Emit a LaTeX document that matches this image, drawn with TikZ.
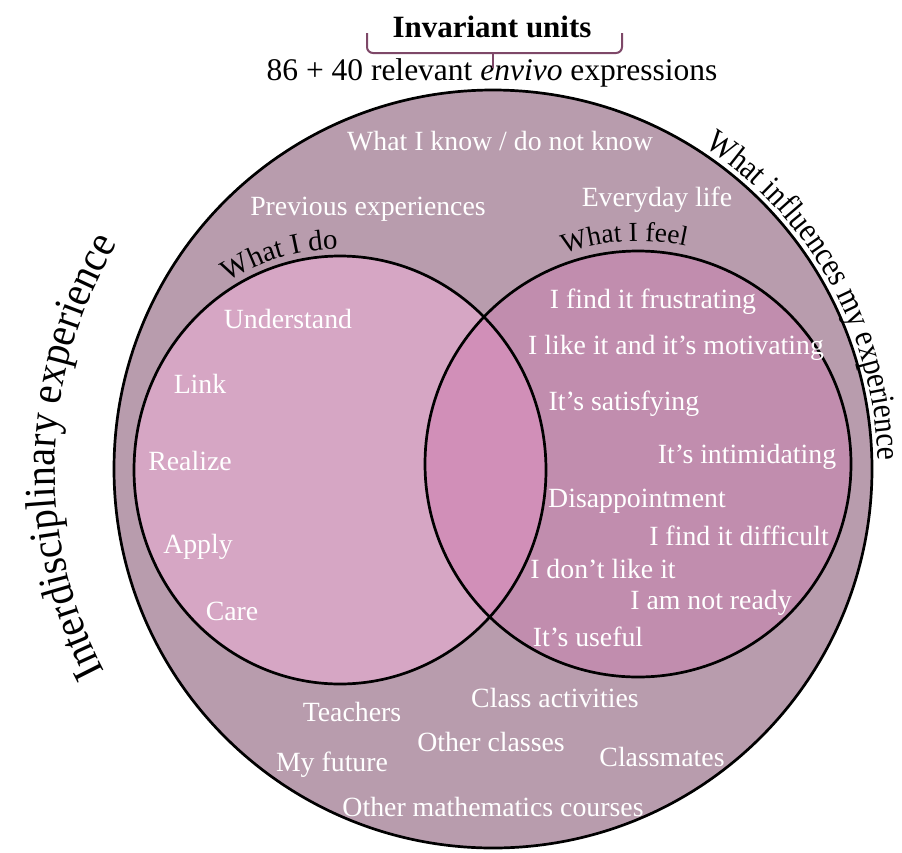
\documentclass[tikz,border=0pt]{standalone}
\usepackage{fontspec}
\setmainfont{Liberation Serif}
\newfontfamily\tallfontL[FakeStretch=0.91]{Liberation Serif}
\newfontfamily\tallfontR[FakeStretch=0.88]{Liberation Serif}
\usetikzlibrary{decorations.text}
\definecolor{ringc}{HTML}{B89CAD}
\definecolor{leftc}{HTML}{D6A6C4}
\definecolor{rightc}{HTML}{C18DAE}
\definecolor{lensc}{HTML}{D18FB8}
\definecolor{bracec}{HTML}{7E4868}
\begin{document}
\begin{tikzpicture}[x=1pt,y=1pt,
  wt/.style={text=white, font=\fontsize{27.8}{30}\selectfont, anchor=base, inner sep=0pt},
  bt/.style={text=black, font=\fontsize{31.5}{34}\selectfont, anchor=base, inner sep=0pt},
  outline/.style={draw=black, line width=2.7pt},
  bracestyle/.style={draw=bracec, line width=2pt, rounded corners=6pt}]
\useasboundingbox (0,0) rectangle (902,-852);
\coordinate (O) at (493,-469);
\coordinate (L) at (340,-470);
\coordinate (R) at (638,-464);
% fills
\fill[ringc] (O) circle[radius=379];
\fill[leftc] (L) ellipse[x radius=206, y radius=214];
\fill[rightc] (R) circle[radius=213];
\begin{scope}
  \clip (L) ellipse[x radius=206, y radius=214];
  \fill[lensc] (R) circle[radius=213];
\end{scope}
% outlines
\draw[outline] (O) circle[radius=379];
\draw[outline] (L) ellipse[x radius=206, y radius=214];
\draw[outline] (R) circle[radius=213];
% title and brace
\node[bt, font=\fontsize{31}{34}\selectfont\bfseries] (title) at (492,-37) {Invariant units};
\node[bt] (expr) at (492,-80) {86 + 40 relevant \textit{envivo} expressions};
\coordinate (bl) at (367,-33);
\coordinate (br) at (622,-33);
\coordinate (bm) at (493,-53);
\draw[bracestyle] (bl) -- (bl |- bm) -- (br |- bm) -- (br);
\draw[draw=bracec, line width=2pt] (bm) -- (493,-68);
% curved labels
\path[decorate, decoration={text along path, text align=center,
  text={|\tallfontL\fontsize{44}{48}\selectfont|Interdisciplinary experience}}]
  (O) ++(212:438) arc[start angle=212, end angle=144.5, radius=438];
\path[decorate, decoration={text along path, text align=center,
  text={|\tallfontR\fontsize{33.5}{38}\selectfont|What influences my experience}}]
  (O) ++(61:385) arc[start angle=61, end angle=-3, radius=385];
\path[decorate, decoration={text along path, text align=center,
  text={|\fontsize{29}{32}\selectfont|What I do}}]
  (L) ++(128:214 and 221) arc[start angle=128, end angle=84, x radius=214, y radius=221];
\path[decorate, decoration={text along path, text align=center,
  text={|\fontsize{27.5}{30}\selectfont|What I feel}}]
  (R) ++(113:223) arc[start angle=113, end angle=74, radius=223];
% outer ring labels
\node[wt] (know) at (500,-150) {What I know / do not know};
\node[wt] (every) at (657,-206) {Everyday life};
\node[wt] (prev) at (368,-215) {Previous experiences};
\node[wt] (teach) at (352,-721) {Teachers};
\node[wt] (classact) at (555,-707) {Class activities};
\node[wt] (othercl) at (491,-751) {Other classes};
\node[wt] (future) at (332,-771) {My future};
\node[wt] (mates) at (662,-766) {Classmates};
\node[wt] (othermath) at (493,-816) {Other mathematics courses};
% left circle labels
\node[wt] (under) at (288,-328) {Understand};
\node[wt] (link) at (200,-393) {Link};
\node[wt] (real) at (190,-470) {Realize};
\node[wt] (apply) at (198,-553) {Apply};
\node[wt] (care) at (232,-620) {Care};
% right circle labels
\node[wt] (frus) at (653,-308) {I find it frustrating};
\node[wt] (like) at (676,-354) {I like it and it’s motivating};
\node[wt] (sat) at (624,-410) {It’s satisfying};
\node[wt] (intim) at (747,-463) {It’s intimidating};
\node[wt] (disap) at (637,-507) {Disappointment};
\node[wt] (diff) at (739,-545) {I find it difficult};
\node[wt] (dont) at (603,-578) {I don’t like it};
\node[wt] (ready) at (711,-609) {I am not ready};
\node[wt] (useful) at (588,-646) {It’s useful};
\end{tikzpicture}
\end{document}
